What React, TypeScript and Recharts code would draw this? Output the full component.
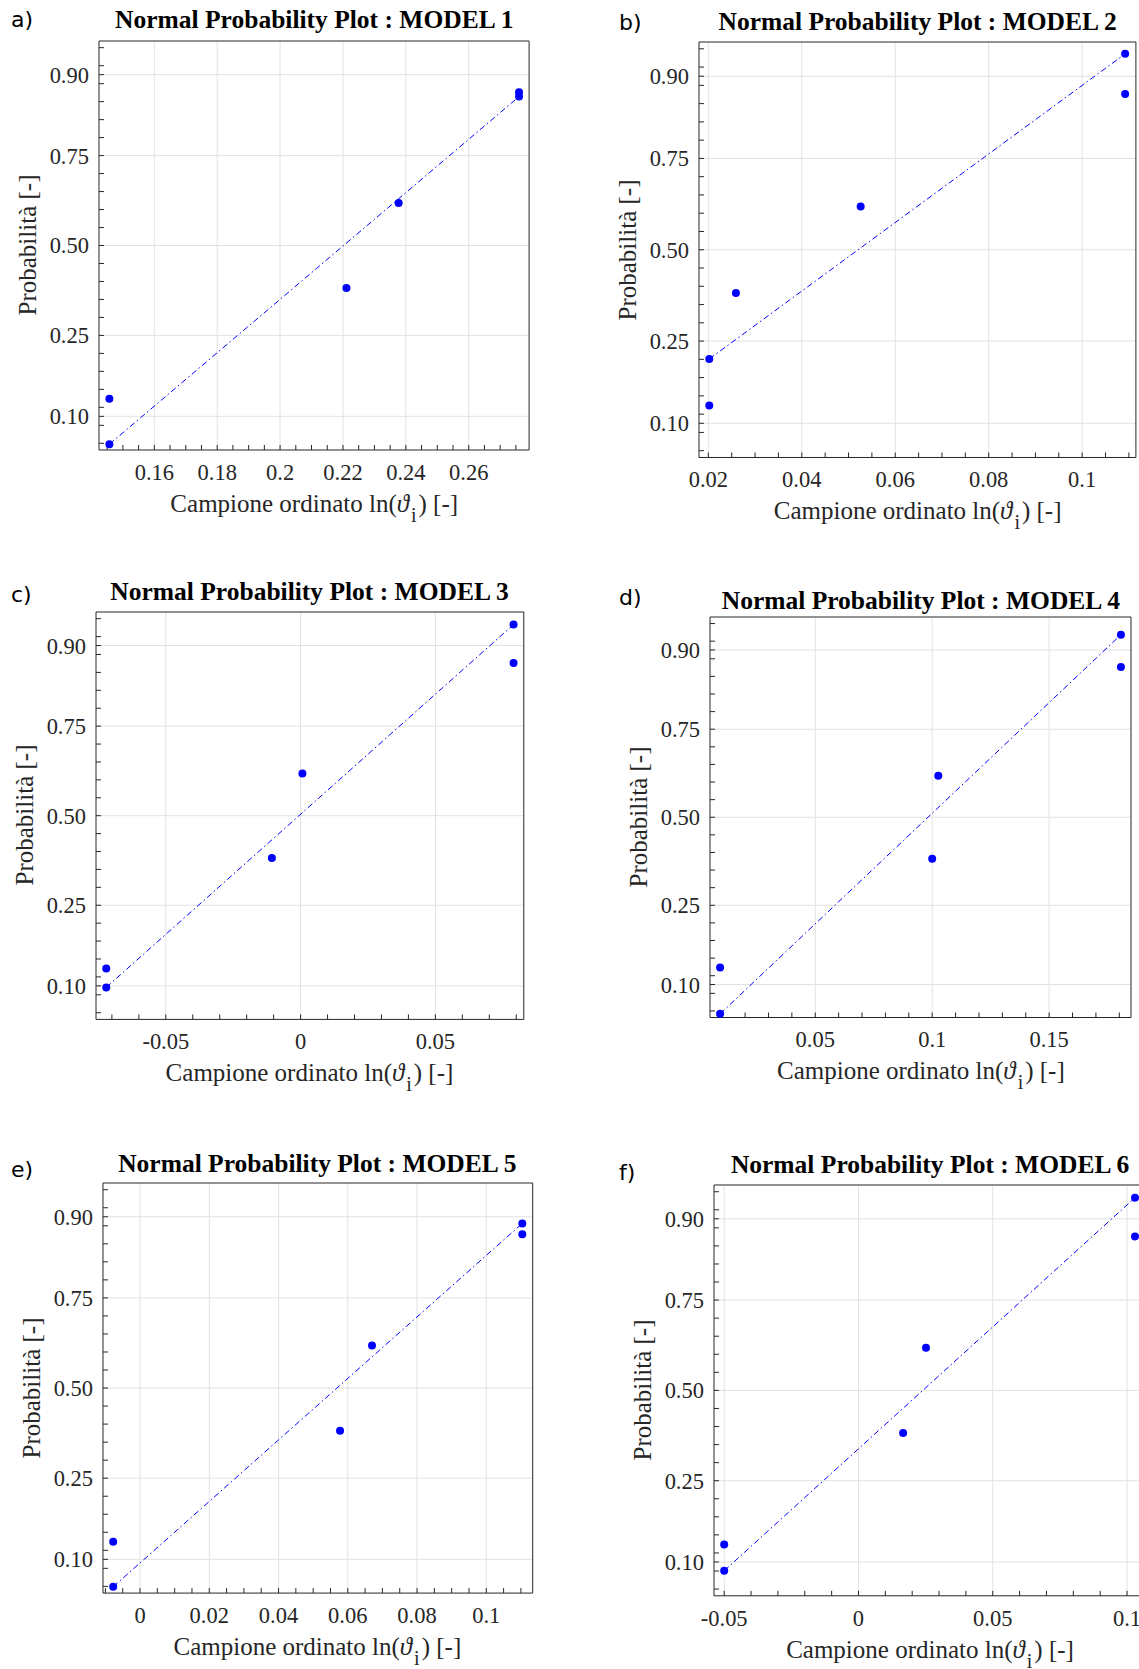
import { ScatterChart, Scatter, XAxis, YAxis, CartesianGrid } from "recharts"

const SERIF = "'Liberation Serif', 'Times New Roman', 'DejaVu Serif', serif"
const SANS = "'DejaVu Sans', 'Noto Sans', sans-serif"
const INK = "#262626"
const BLUE = "#0000ff"

// plotting positions (i - 0.5) / n of the four ordered samples
const sampleProbs = [0.125, 0.375, 0.625, 0.875]

// probability axis (normal quantile scale)
const probTicks = [0.1, 0.25, 0.5, 0.75, 0.9]
const probTickLabels = ["0.10", "0.25", "0.50", "0.75", "0.90"]
const probLimits = [0.0625, 0.9375]

// MODEL 1
const model1X = [0.1457, 0.2211, 0.2377, 0.276]
const model1FitX = [0.1457, 0.276]
const model1FitP = [0.068, 0.868]
const model1Ticks = [0.16, 0.18, 0.2, 0.22, 0.24, 0.26]
const model1TickLabels = ["0.16", "0.18", "0.2", "0.22", "0.24", "0.26"]
const model1Domain = [0.1424, 0.2792]

// MODEL 2
const model2X = [0.0202, 0.0259, 0.0526, 0.1092]
const model2FitX = [0.0202, 0.1092]
const model2FitP = [0.21, 0.926]
const model2Ticks = [0.02, 0.04, 0.06, 0.08, 0.1]
const model2TickLabels = ["0.02", "0.04", "0.06", "0.08", "0.1"]
const model2Domain = [0.018, 0.1115]

// MODEL 3
const model3X = [-0.0721, -0.01065, 0.00067, 0.079]
const model3FitX = [-0.0721, 0.079]
const model3FitP = [0.098, 0.925]
const model3Ticks = [-0.05, 0, 0.05]
const model3TickLabels = ["-0.05", "0", "0.05"]
const model3Domain = [-0.0759, 0.0828]

// MODEL 4
const model4X = [0.00932, 0.1, 0.1026, 0.1807]
const model4FitX = [0.00932, 0.1807]
const model4FitP = [0.066, 0.919]
const model4Ticks = [0.05, 0.1, 0.15]
const model4TickLabels = ["0.05", "0.1", "0.15"]
const model4Domain = [0.005, 0.185]

// MODEL 5
const model5X = [-0.00776, 0.05776, 0.067, 0.1104]
const model5FitX = [-0.00776, 0.1104]
const model5FitP = [0.0685, 0.891]
const model5Ticks = [0, 0.02, 0.04, 0.06, 0.08, 0.1]
const model5TickLabels = ["0", "0.02", "0.04", "0.06", "0.08", "0.1"]
const model5Domain = [-0.0107, 0.1134]

// MODEL 6
const model6X = [-0.05, 0.01662, 0.02514, 0.10297]
const model6FitX = [-0.05, 0.10297]
const model6FitP = [0.089, 0.925]
const model6Ticks = [-0.05, 0, 0.05, 0.1]
const model6TickLabels = ["-0.05", "0", "0.05", "0.1"]
const model6Domain = [-0.0538, 0.1068]

// inverse normal CDF (Acklam)
function probit(p: number): number {
  const a = [-39.69683028665376, 220.9460984245205, -275.9285104469687, 138.357751867269, -30.66479806614716, 2.506628277459239]
  const b = [-54.47609879822406, 161.5858368580409, -155.6989798598866, 66.80131188771972, -13.28068155288572]
  const c = [-0.007784894002430293, -0.3223964580411365, -2.400758277161838, -2.549732539343734, 4.374664141464968, 2.938163982698783]
  const d = [0.007784695709041462, 0.3224671290700398, 2.445134137142996, 3.754408661907416]
  const lo = 0.02425
  if (p < lo || p > 1 - lo) {
    const q = Math.sqrt(-2 * Math.log(p < lo ? p : 1 - p))
    const v = (((((c[0] * q + c[1]) * q + c[2]) * q + c[3]) * q + c[4]) * q + c[5]) / ((((d[0] * q + d[1]) * q + d[2]) * q + d[3]) * q + 1)
    return p < lo ? v : -v
  }
  const q = p - 0.5
  const r = q * q
  return ((((((a[0] * r + a[1]) * r + a[2]) * r + a[3]) * r + a[4]) * r + a[5]) * q) / (((((b[0] * r + b[1]) * r + b[2]) * r + b[3]) * r + b[4]) * r + 1)
}

function withMinor(lo: number, hi: number, step: number, major: number[]) {
  const out = [...major]
  for (let k = Math.ceil(lo / step - 1e-9); k * step <= hi + 1e-12; k++) {
    const v = +(k * step).toFixed(6)
    if (!out.some((m) => Math.abs(m - v) < step * 1e-3)) out.push(v)
  }
  return out.sort((x, y) => x - y)
}

const zLo = probit(probLimits[0])
const zHi = probit(probLimits[1])
const zMajor = probTicks.map(probit)
const zAll = withMinor(zLo, zHi, probit(0.75) / 5, zMajor)

const panels = [
  { letter: "a)", title: "Normal Probability Plot : MODEL 1", xs: model1X, fitX: model1FitX, fitP: model1FitP, ticks: model1Ticks, labels: model1TickLabels, domain: model1Domain, minor: 0.005, box: [99.2, 40.6, 529.3, 449.6], titleGap: 12, letterAt: [11, 30.7] },
  { letter: "b)", title: "Normal Probability Plot : MODEL 2", xs: model2X, fitX: model2FitX, fitP: model2FitP, ticks: model2Ticks, labels: model2TickLabels, domain: model2Domain, minor: 0.005, box: [699.2, 41.9, 1136.1, 457.4], titleGap: 12, letterAt: [619, 33] },
  { letter: "c)", title: "Normal Probability Plot : MODEL 3", xs: model3X, fitX: model3FitX, fitP: model3FitP, ticks: model3Ticks, labels: model3TickLabels, domain: model3Domain, minor: 0.01, box: [95.6, 611.7, 523.4, 1019.1], titleGap: 11, letterAt: [11, 605] },
  { letter: "d)", title: "Normal Probability Plot : MODEL 4", xs: model4X, fitX: model4FitX, fitP: model4FitP, ticks: model4Ticks, labels: model4TickLabels, domain: model4Domain, minor: 0.01, box: [710.4, 616.8, 1131.4, 1017.3], titleGap: 7, letterAt: [619, 608] },
  { letter: "e)", title: "Normal Probability Plot : MODEL 5", xs: model5X, fitX: model5FitX, fitP: model5FitP, ticks: model5Ticks, labels: model5TickLabels, domain: model5Domain, minor: 0.005, box: [102.5, 1183.3, 532.2, 1593.4], titleGap: 11, letterAt: [11, 1180] },
  { letter: "f)", title: "Normal Probability Plot : MODEL 6", xs: model6X, fitX: model6FitX, fitP: model6FitP, ticks: model6Ticks, labels: model6TickLabels, domain: model6Domain, minor: 0.01, box: [714.4, 1185, 1145.7, 1595.8], titleGap: 12, letterAt: [619, 1183] },
]

const Dot = (props: any) => <circle cx={props.cx} cy={props.cy} r={4} fill={BLUE} />

function Panel({ p }: { p: (typeof panels)[number] }) {
  const [L, T, R, B] = p.box
  const AXW = 90
  const TOPM = 4
  const RIGHTM = 6
  const XAH = 44
  const plotW = R - L
  const plotH = B - T
  const width = AXW + plotW + 1 + RIGHTM
  const height = TOPM + 1 + plotH + XAH

  const xAll = withMinor(p.domain[0], p.domain[1], p.minor, p.ticks)
  const pts = p.xs.map((x, i) => ({ x, z: probit(sampleProbs[i]) }))
  const fit = p.fitX.map((x, i) => ({ x, z: probit(p.fitP[i]) }))

  const xLabel = (v: number) => {
    const i = p.ticks.findIndex((t) => Math.abs(t - v) < 1e-7)
    return i >= 0 ? p.labels[i] : ""
  }
  const yLabel = (v: number) => {
    const i = zMajor.findIndex((t) => Math.abs(t - v) < 1e-7)
    return i >= 0 ? probTickLabels[i] : ""
  }
  const tickText = { fontSize: 22.5, fill: INK, fontFamily: SERIF }

  return (
    <>
      <div style={{ position: "absolute", left: L - AXW, top: T - TOPM - 1 }}>
        <ScatterChart width={width} height={height} margin={{ top: TOPM, right: RIGHTM, bottom: 0, left: 0 }}>
          <CartesianGrid xAxisId="bx" yAxisId="ly" stroke="#e2e2e2" verticalValues={p.ticks} horizontalValues={zMajor} />
          <XAxis xAxisId="bx" type="number" dataKey="x" domain={p.domain} ticks={xAll} interval={0} tickFormatter={xLabel}
            height={XAH} tickSize={-5} tickMargin={19} tick={tickText} tickLine={{ stroke: INK }} axisLine={{ stroke: INK }} />
          <XAxis xAxisId="tx" orientation="top" type="number" domain={p.domain} ticks={xAll} interval={0}
            height={1} tickSize={-5} tick={false} tickLine={{ stroke: INK }} axisLine={{ stroke: INK }} />
          <YAxis yAxisId="ly" type="number" dataKey="z" domain={[zLo, zHi]} ticks={zAll} interval={0} tickFormatter={yLabel}
            width={AXW} tickSize={-5} tickMargin={15} tick={tickText} tickLine={{ stroke: INK }} axisLine={{ stroke: INK }} />
          <YAxis yAxisId="ry" orientation="right" type="number" domain={[zLo, zHi]} ticks={zAll} interval={0}
            width={1} tickSize={-5} tick={false} tickLine={{ stroke: INK }} axisLine={{ stroke: INK }} />
          <Scatter xAxisId="bx" yAxisId="ly" data={fit} shape={Dot} lineType="joint"
            line={{ stroke: BLUE, strokeWidth: 1, strokeDasharray: "6 3 1.5 3" }} isAnimationActive={false} />
          <Scatter xAxisId="bx" yAxisId="ly" data={pts} shape={Dot} isAnimationActive={false} />
        </ScatterChart>
      </div>
      <div style={{ position: "absolute", left: L, width: plotW, top: T - p.titleGap - 0.8375 * 25.5, fontFamily: SERIF, fontWeight: "bold", fontSize: 25.5, lineHeight: "25.5px", textAlign: "center", whiteSpace: "nowrap", color: "#000" }}>
        {p.title}
      </div>
      <div style={{ position: "absolute", left: p.letterAt[0], top: p.letterAt[1] - 2.9 - 18.6, fontFamily: SANS, fontSize: 22, lineHeight: "22px", color: "#000" }}>
        {p.letter}
      </div>
      <div style={{ position: "absolute", left: L, width: plotW, top: B + 62 - 0.8375 * 25, fontFamily: SERIF, fontSize: 25, lineHeight: "25px", textAlign: "center", whiteSpace: "nowrap", color: INK }}>
        Campione ordinato ln(<span style={{ fontStyle: "italic" }}>ϑ</span><span style={{ fontSize: "0.8em", position: "relative", top: "0.5em", margin: "0 2px" }}>i</span>) [-]
      </div>
      <div style={{ position: "absolute", left: L - 69 - 2 - 150, top: (T + B) / 2 - 15, width: 300, height: 30, lineHeight: "30px", fontFamily: SERIF, fontSize: 25, textAlign: "center", whiteSpace: "nowrap", color: INK, transform: "rotate(-90deg)" }}>
        Probabilità [-]
      </div>
    </>
  )
}

export default function App() {
  return (
    <div style={{ position: "absolute", left: 0, top: 0, width: 1139, height: 1669, overflow: "hidden", background: "#fff" }}>
      {panels.map((p) => (
        <Panel key={p.letter} p={p} />
      ))}
    </div>
  )
}
